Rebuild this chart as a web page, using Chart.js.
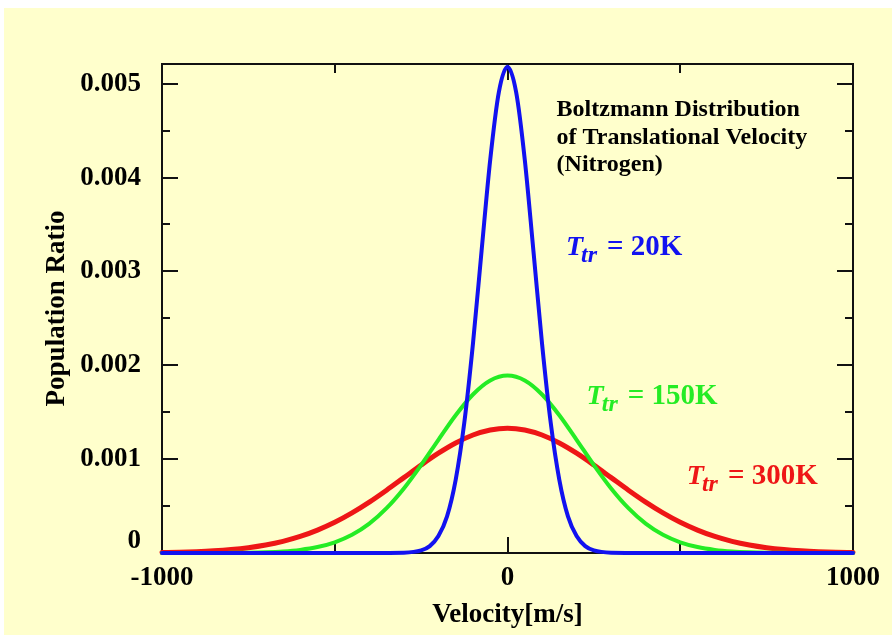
<!DOCTYPE html>
<html>
<head>
<meta charset="utf-8">
<script src="https://cdn.jsdelivr.net/npm/chart.js@4/dist/chart.umd.min.js"></script>
<style>
  html, body { margin: 0; padding: 0; background: #ffffff; }
  #wrap { width: 892px; height: 635px; }
</style>
</head>
<body>
<div id="wrap"><canvas id="c" width="892" height="635"></canvas></div>
<script>
// ---------- data ----------
const velocity = [-1000,-950,-900,-850,-800,-750,-700,-650,-600,-550,-500,-450,-400,-350,-300,-250,-200,-150,-100,-50,0,
                  50,100,150,200,250,300,350,400,450,500,550,600,650,700,750,800,850,900,950,1000];
const ratio150K = [0,0,0,0,0.0000014,0.0000034,0.0000077,0.0000164,0.0000332,0.0000633,0.000114,0.000194,0.000313,0.000478,0.000688,0.000937,0.001206,0.001468,0.001689,0.001838,0.00189,
                   0.001838,0.001689,0.001468,0.001206,0.000937,0.000688,0.000478,0.000313,0.000194,0.000114,0.0000633,0.0000332,0.0000164,0.0000077,0.0000034,0.0000014,0,0,0,0];
const ratio300K = [0.0000049,0.0000084,0.0000141,0.0000231,0.0000367,0.0000566,0.000085,0.000124,0.000176,0.000244,0.000327,0.000427,0.000542,0.000669,0.000803,0.000937,0.001063,0.001172,0.001257,0.001311,0.00133,
                   0.001311,0.001257,0.001172,0.001063,0.000937,0.000803,0.000669,0.000542,0.000427,0.000327,0.000244,0.000176,0.000124,0.000085,0.0000566,0.0000367,0.0000231,0.0000141,0.0000084,0.0000049];
const velocity20K = [-1000,-400,-300,-250,-225,-200,-175,-150,-125,-100,-75,-50,-25,0,25,50,75,100,125,150,175,200,225,250,300,400,1000];
const ratio20K = [0,0,0.000003,0.000027,0.000073,0.00018,0.00039,0.00078,0.00139,0.00223,0.00322,0.00419,0.00491,0.00518,0.00491,0.00419,0.00322,0.00223,0.00139,0.00078,0.00039,0.00018,0.000073,0.000027,0.000003,0,0];

const seriesNames = ["20K", "150K", "300K"];
const xMajorTicks = [-1000, 0, 1000];
const xMinorTicks = [-500, 500];
const yMajorTicks = [0, 0.001, 0.002, 0.003, 0.004, 0.005];
const yMajorLabels = ["0", "0.001", "0.002", "0.003", "0.004", "0.005"];
const yMinorTicks = [0.0005, 0.0015, 0.0025, 0.0035, 0.0045];
const xTitle = "Velocity[m/s]";
const yTitle = "Population Ratio";
const noteLines = ["Boltzmann Distribution", "of Translational Velocity", "(Nitrogen)"];

// ---------- styling ----------
const SERIF = '"Liberation Serif", "Times New Roman", Times, serif';
const BLUE = "rgb(18,18,240)";
const GREEN = "rgb(36,236,36)";
const RED = "rgb(238,22,22)";
const BG = "#ffffcc";

function pts(xs, ys) { return xs.map((x, i) => ({ x: x, y: ys[i] })); }

const bgPlugin = {
  id: "bg",
  beforeDraw(chart) {
    const ctx = chart.ctx;
    ctx.save();
    ctx.fillStyle = "#ffffff";
    ctx.fillRect(0, 0, chart.width, chart.height);
    ctx.fillStyle = BG;
    ctx.fillRect(4, 8, chart.width - 4, chart.height - 8);
    ctx.restore();
  }
};

const framePlugin = {
  id: "frame",
  beforeDatasetsDraw(chart) {
    const { ctx, chartArea: a, scales } = chart;
    const xs = scales.x, ys = scales.y;
    ctx.save();
    ctx.strokeStyle = "#111111";
    ctx.lineWidth = 2;
    ctx.strokeRect(a.left, a.top, a.right - a.left, a.bottom - a.top);
    ctx.beginPath();
    const xt = (vals, len) => vals.forEach(v => {
      const px = Math.round(xs.getPixelForValue(v));
      ctx.moveTo(px, a.bottom); ctx.lineTo(px, a.bottom - len);
      ctx.moveTo(px, a.top); ctx.lineTo(px, a.top + len);
    });
    const yt = (vals, len) => vals.forEach(v => {
      const py = Math.round(ys.getPixelForValue(v));
      ctx.moveTo(a.left, py); ctx.lineTo(a.left + len, py);
      ctx.moveTo(a.right, py); ctx.lineTo(a.right - len, py);
    });
    xt(xMajorTicks, 16); xt(xMinorTicks, 9);
    yt(yMajorTicks, 16); yt(yMinorTicks, 8);
    ctx.stroke();
    ctx.restore();
  }
};

function drawLabel(ctx, x, y, color, value) {
  ctx.fillStyle = color;
  ctx.textBaseline = "alphabetic";
  ctx.textAlign = "left";
  ctx.font = "italic bold 28px " + SERIF;
  ctx.fillText("T", x, y);
  let cx = x + ctx.measureText("T").width - 2;
  ctx.font = "italic bold 24px " + SERIF;
  ctx.fillText("tr", cx, y + 7);
  cx += ctx.measureText("tr").width + 10;
  ctx.font = "bold 29px " + SERIF;
  ctx.fillText("= " + value, cx, y);
}

const notePlugin = {
  id: "notes",
  afterDraw(chart) {
    const { ctx, scales } = chart;
    const xs = scales.x, ys = scales.y;
    ctx.save();
    ctx.fillStyle = "#000000";
    ctx.font = "bold 24px " + SERIF;
    ctx.textAlign = "left";
    ctx.textBaseline = "alphabetic";
    const nx = xs.getPixelForValue(142);
    const ny = ys.getPixelForValue(0.004655);
    noteLines.forEach((t, i) => ctx.fillText(t, nx, ny + i * 27.5));
    drawLabel(ctx, xs.getPixelForValue(169), ys.getPixelForValue(0.00318), BLUE, seriesNames[0]);
    drawLabel(ctx, xs.getPixelForValue(229), ys.getPixelForValue(0.00159), GREEN, seriesNames[1]);
    drawLabel(ctx, xs.getPixelForValue(519), ys.getPixelForValue(0.000735), RED, seriesNames[2]);
    ctx.restore();
  }
};

new Chart(document.getElementById("c"), {
  type: "line",
  data: {
    datasets: [
      { label: seriesNames[0], data: pts(velocity20K, ratio20K), borderColor: BLUE, borderWidth: 4 },
      { label: seriesNames[1], data: pts(velocity, ratio150K), borderColor: GREEN, borderWidth: 4 },
      { label: seriesNames[2], data: pts(velocity, ratio300K), borderColor: RED, borderWidth: 5 }
    ]
  },
  options: {
    responsive: false,
    animation: false,
    events: [],
    datasets: {
      line: {
        pointRadius: 0,
        fill: false,
        cubicInterpolationMode: "monotone",
        borderJoinStyle: "round",
        borderCapStyle: "round",
        clip: 8
      }
    },
    layout: { padding: { left: 10, right: 39, top: 64, bottom: 0 } },
    plugins: { legend: { display: false }, tooltip: { enabled: false }, title: { display: false } },
    scales: {
      x: {
        type: "linear",
        min: -1000, max: 1000,
        grid: { display: false, drawTicks: false },
        border: { display: false },
        afterBuildTicks(scale) { scale.ticks = xMajorTicks.map(v => ({ value: v })); },
        afterFit(scale) { scale.height = 82; },
        ticks: {
          color: "#000000",
          padding: 9,
          maxRotation: 0,
          font: { family: SERIF, size: 27, weight: "bold" },
          callback: (v) => String(v)
        },
        title: {
          display: true, text: xTitle, color: "#000000",
          font: { family: SERIF, size: 27, weight: "bold" },
          padding: { top: 0, bottom: 4 }
        }
      },
      y: {
        type: "linear",
        min: 0, max: 0.00521,
        grid: { display: false, drawTicks: false },
        border: { display: false },
        afterBuildTicks(scale) { scale.ticks = yMajorTicks.map(v => ({ value: v })); },
        afterFit(scale) { scale.width = 152; },
        ticks: {
          color: "#000000",
          padding: 21,
          font: (c) => (c.tick && c.tick.value === 0)
            ? { family: SERIF, size: 27, weight: "bold", lineHeight: 0.9 }
            : { family: SERIF, size: 27, weight: "bold" },
          callback: (v) => {
            const i = yMajorTicks.findIndex(t => Math.abs(t - v) < 1e-9);
            if (i < 0) return "";
            return v === 0 ? [yMajorLabels[i], ""] : yMajorLabels[i];
          }
        },
        title: {
          display: true, text: yTitle, color: "#000000",
          font: { family: SERIF, size: 27, weight: "bold" },
          padding: { top: 31, bottom: 0 }
        }
      }
    }
  },
  plugins: [bgPlugin, framePlugin, notePlugin]
});
</script>
</body>
</html>
